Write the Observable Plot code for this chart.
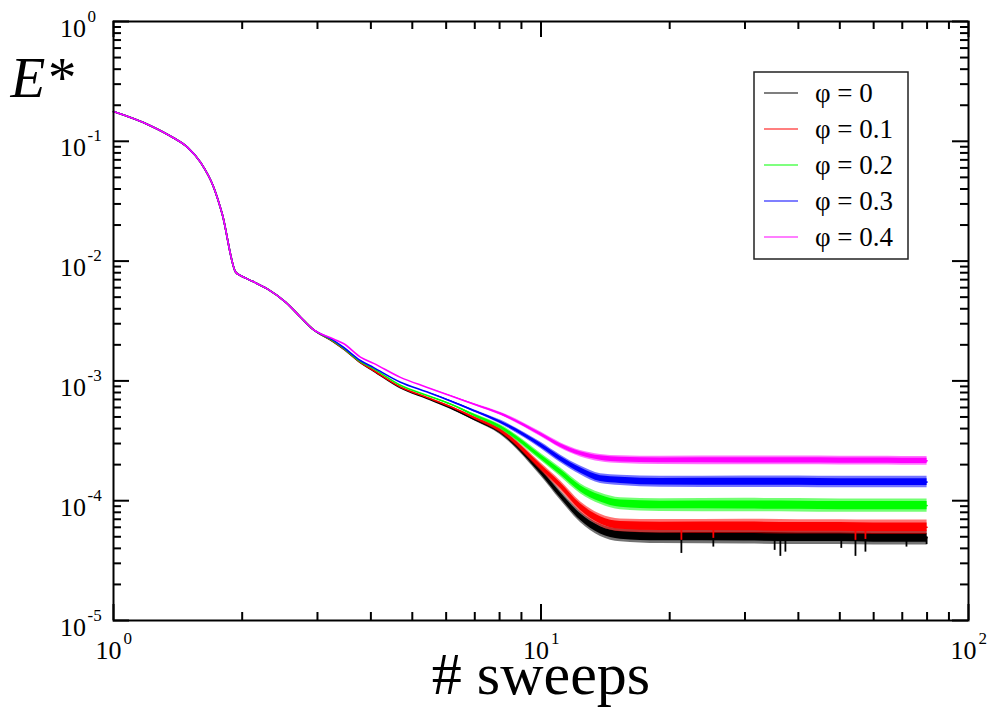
<!DOCTYPE html>
<html>
<head>
<meta charset="utf-8">
<script src="https://cdn.jsdelivr.net/npm/d3@7"></script>
<script src="https://cdn.jsdelivr.net/npm/@observablehq/plot@0.6"></script>
<style>
  body { margin: 0; background: #fff; }
  #wrap { position: relative; width: 990px; height: 712px; }
  #legend { position: absolute; left: 753px; top: 71px; }
  svg text { font-family: "Liberation Serif", "Times New Roman", serif; }
</style>
</head>
<body>
<div id="wrap"></div>
<script>
// ---------------- data ----------------
const sweeps = [1, 1.22, 1.38, 1.49, 1.6, 1.716, 1.796, 1.93, 1.98, 2.055, 2.29, 2.53, 2.74, 2.92,
  3.27, 3.45, 3.78, 4.06, 4.69, 5.4, 6.14, 7.0, 8.04, 10, 11.1, 12.37, 13.78, 15.35, 19, 30, 40, 50, 60, 70, 80];

const common = [0.177, 0.135, 0.107, 0.089, 0.0663, 0.0412, 0.0247, 0.0081, 0.00758, 0.00711,
  0.00586, 0.00453, 0.0034, 0.00272];

const ePhi00 = common.concat([2.12e-3, 1.85e-3, 1.42e-3, 1.21e-3, 8.75e-4, 7.15e-4, 5.95e-4, 4.75e-4,
  3.73e-4, 1.73e-4, 1.11e-4, 7.3e-5, 5.66e-5, 5.14e-5, 5.0e-5, 5.0e-5, 4.95e-5, 4.95e-5, 4.9e-5, 4.9e-5, 4.9e-5]);
const ePhi01 = common.concat([2.13e-3, 1.86e-3, 1.43e-3, 1.22e-3, 8.9e-4, 7.3e-4, 6.1e-4, 4.9e-4,
  3.86e-4, 1.91e-4, 1.34e-4, 8.85e-5, 6.85e-5, 6.22e-5, 6.1e-5, 6.1e-5, 6.05e-5, 6.05e-5, 6.0e-5, 6.0e-5, 6.0e-5]);
const ePhi02 = common.concat([2.15e-3, 1.88e-3, 1.45e-3, 1.26e-3, 9.2e-4, 7.6e-4, 6.4e-4, 5.15e-4,
  4.11e-4, 2.31e-4, 1.73e-4, 1.26e-4, 1.04e-4, 9.44e-5, 9.2e-5, 9.2e-5, 9.15e-5, 9.1e-5, 9.1e-5, 9.1e-5, 9.1e-5]);
const ePhi03 = common.concat([2.18e-3, 1.91e-3, 1.48e-3, 1.29e-3, 9.75e-4, 8.1e-4, 6.8e-4, 5.6e-4,
  4.53e-4, 2.89e-4, 2.24e-4, 1.79e-4, 1.53e-4, 1.48e-4, 1.44e-4, 1.44e-4, 1.44e-4, 1.43e-4, 1.43e-4, 1.43e-4, 1.43e-4]);
const ePhi04 = common.concat([2.24e-3, 2.05e-3, 1.58e-3, 1.40e-3, 1.07e-3, 8.86e-4, 7.5e-4, 6.35e-4,
  5.32e-4, 3.57e-4, 2.89e-4, 2.47e-4, 2.27e-4, 2.2e-4, 2.17e-4, 2.17e-4, 2.17e-4, 2.16e-4, 2.16e-4, 2.15e-4, 2.15e-4]);

const seriesValues = [ePhi00, ePhi01, ePhi02, ePhi03, ePhi04];
const seriesNames = ["\u03C6 = 0", "\u03C6 = 0.1", "\u03C6 = 0.2", "\u03C6 = 0.3", "\u03C6 = 0.4"];
const seriesColors = ["#000000", "#ff0000", "#00ff00", "#0000ff", "#ff00ff"];

// fluctuation envelope (half-width in decades) read from the plateau
const noiseRamp = [0,0,0,0,0,0,0,0,0,0,0,0,0,0, 0,0,0,0,0,0, 0.1, 0.2, 0.35, 0.55, 0.65, 0.75, 0.85, 0.9, 0.95, 1, 1, 1, 1, 1, 1];
const noiseAmp = [0.06, 0.06, 0.056, 0.048, 0.036];

// isolated downward spikes
const blackSpikeX = [21.3, 25.3, 35.2, 36.3, 37.3, 50.4, 54.4, 57.4, 71.6, 79.8];
const blackSpikeE = [3.63e-5, 4.1e-5, 3.85e-5, 3.43e-5, 3.72e-5, 4.0e-5, 3.43e-5, 3.72e-5, 4.1e-5, 4.3e-5];
const redSpikeX = [21.3, 25.3, 54.4, 57.4];
const redSpikeE = [4.67e-5, 4.85e-5, 4.67e-5, 4.75e-5];

// axes
const xMajor = [1, 10, 100];
const xExp = ["0", "1", "2"];
const yMajor = [1, 1e-1, 1e-2, 1e-3, 1e-4, 1e-5];
const yExp = ["0", "-1", "-2", "-3", "-4", "-5"];
const xMinor = [2,3,4,5,6,7,8,9,20,30,40,50,60,70,80,90];
const yMinor = [];
for (let d = -5; d < 0; d++) for (let m = 2; m <= 9; m++) yMinor.push(m * Math.pow(10, d));

// ---------------- layout ----------------
const W = 990, H = 712, ML = 113, MR = 22, MT = 21, MB = 92;
const FW = W - ML - MR, FH = H - MT - MB;
const font = "Liberation Serif";

const marks = [];
seriesValues.forEach((vals, s) => {
  const rows = sweeps.map((x, i) => {
    const a = noiseAmp[s] * noiseRamp[i];
    return {x, e: vals[i], lo: vals[i] * Math.pow(10, -a), hi: vals[i] * Math.pow(10, a),
            lo2: vals[i] * Math.pow(10, -a * 0.6), hi2: vals[i] * Math.pow(10, a * 0.6), a};
  });
  const noisy = rows.filter(r => r.x >= 5.4);
  marks.push(Plot.areaY(noisy, {x: "x", y1: "lo", y2: "hi", fill: seriesColors[s], fillOpacity: 0.55, curve: "monotone-x"}));
  marks.push(Plot.areaY(noisy, {x: "x", y1: "lo2", y2: "hi2", fill: seriesColors[s], fillOpacity: 1, curve: "monotone-x"}));
  marks.push(Plot.line(rows, {x: "x", y: "e", stroke: seriesColors[s], strokeWidth: 1.6, curve: "monotone-x"}));
  if (s === 0) {
    marks.push(Plot.ruleX(blackSpikeX, {x: d => d, y1: () => 5.0e-5, y2: (d, i) => blackSpikeE[i],
      stroke: "#000", strokeWidth: 1.8}));
  }
  if (s === 1) {
    marks.push(Plot.ruleX(redSpikeX, {x: d => d, y1: () => 6.0e-5, y2: (d, i) => redSpikeE[i],
      stroke: "#ff0000", strokeWidth: 1.8}));
  }
});

// frame
marks.push(Plot.frame({stroke: "#000", strokeWidth: 2}));
// ticks (inward, all four sides)
const tk = {stroke: "#000", strokeWidth: 2};
marks.push(Plot.ruleX(xMajor, {x: d => d, insetTop: FH - 16, ...tk}));
marks.push(Plot.ruleX(xMajor, {x: d => d, insetBottom: FH - 16, ...tk}));
marks.push(Plot.ruleX(xMinor, {x: d => d, insetTop: FH - 8, ...tk}));
marks.push(Plot.ruleX(xMinor, {x: d => d, insetBottom: FH - 8, ...tk}));
marks.push(Plot.ruleY(yMajor, {y: d => d, insetRight: FW - 16, ...tk}));
marks.push(Plot.ruleY(yMajor, {y: d => d, insetLeft: FW - 16, ...tk}));
marks.push(Plot.ruleY(yMinor, {y: d => d, insetRight: FW - 8, ...tk}));
marks.push(Plot.ruleY(yMinor, {y: d => d, insetLeft: FW - 8, ...tk}));

// tick labels
const tf = {fontFamily: font, fill: "#000", lineAnchor: "bottom"};
marks.push(Plot.text(xMajor, {x: d => d, text: () => "10", frameAnchor: "bottom", textAnchor: "end",
  dx: 8, dy: 38, fontSize: 26, ...tf}));
marks.push(Plot.text(xMajor, {x: d => d, text: (d, i) => xExp[i], frameAnchor: "bottom", textAnchor: "start",
  dx: 10, dy: 23, fontSize: 17, ...tf}));
marks.push(Plot.text(yMajor, {y: d => d, text: () => "10", frameAnchor: "left", textAnchor: "end",
  dx: -27.5, dy: 15, fontSize: 26, ...tf}));
marks.push(Plot.text(yMajor, {y: d => d, text: (d, i) => yExp[i], frameAnchor: "left", textAnchor: "start",
  dx: -26, dy: 0, fontSize: 17, ...tf}));

// axis titles
marks.push(Plot.text(["# sweeps"], {text: d => d, frameAnchor: "bottom", textAnchor: "middle",
  dy: 73, fontSize: 60, ...tf}));
marks.push(Plot.text(["E*"], {text: d => d, frameAnchor: "top-left", textAnchor: "start",
  dx: -103, dy: 75, fontSize: 57, fontStyle: "italic", ...tf}));

const chart = Plot.plot({
  width: W, height: H,
  marginLeft: ML, marginRight: MR, marginTop: MT, marginBottom: MB,
  style: {fontFamily: "'Liberation Serif', serif", background: "#fff", overflow: "visible"},
  x: {type: "log", domain: [1, 100], axis: null},
  y: {type: "log", domain: [1e-5, 1], axis: null},
  marks
});
document.getElementById("wrap").appendChild(chart);

// legend
const lg = d3.create("svg").attr("id", "legend").attr("width", 157).attr("height", 190)
  .attr("font-family", "Liberation Serif");
lg.append("rect").attr("x", 1).attr("y", 1).attr("width", 154).attr("height", 187)
  .attr("fill", "#fff").attr("stroke", "#222").attr("stroke-width", 1.5);
seriesNames.forEach((name, i) => {
  const cy = 22 + i * 36;
  lg.append("line").attr("x1", 11).attr("x2", 45).attr("y1", cy).attr("y2", cy)
    .attr("stroke", seriesColors[i]).attr("stroke-width", 1.1);
  lg.append("text").attr("x", 62).attr("y", cy + 9).attr("font-size", 27)
    .attr("font-family", "Liberation Serif").attr("fill", "#000").text(name);
});
document.getElementById("wrap").appendChild(lg.node());
</script>
</body>
</html>
